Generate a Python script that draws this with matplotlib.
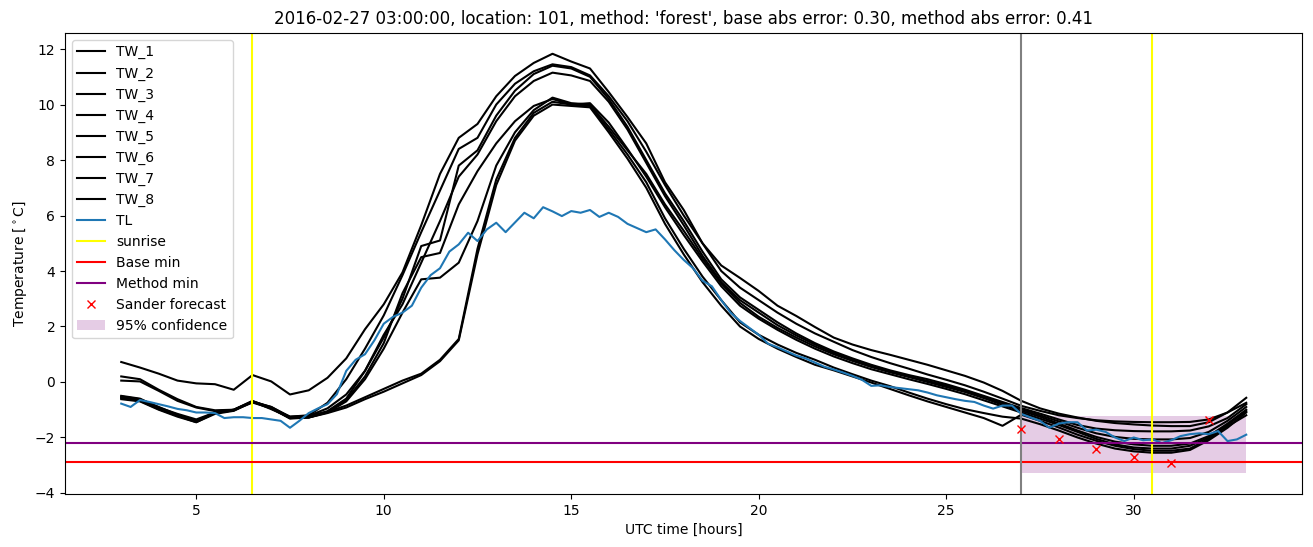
import numpy as np
import matplotlib
matplotlib.use("Agg")
import matplotlib.pyplot as plt

# hours (UTC, relative to start day)
hours_tw = np.arange(3.0, 33.01, 0.5)
hours_tl = np.arange(3.0, 33.01, 0.25)

TW_1 = [0.72, 0.52, 0.30, 0.05, -0.05, -0.08, -0.28, 0.25, 0.02, -0.45,
        -0.30, 0.15, 0.85, 1.90, 2.80, 3.95, 5.65, 7.50, 8.80, 9.30,
        10.30, 11.03, 11.50, 11.83, 11.55, 11.30, 10.45, 9.55, 8.60, 7.20,
        6.20, 5.00, 4.20, 3.75, 3.28, 2.75, 2.38, 1.98, 1.60, 1.35,
        1.15, 0.98, 0.80, 0.62, 0.42, 0.22, -0.02, -0.32, -0.68, -0.95,
        -1.14, -1.28, -1.40, -1.48, -1.53, -1.57, -1.59, -1.59, -1.45, -1.10,
        -0.57]
TW_2 = [0.20, 0.10, -0.28, -0.62, -0.90, -1.02, -1.00, -0.68, -0.95, -1.25,
        -1.20, -0.75, 0.10, 1.20, 2.40, 3.85, 5.40, 6.90, 8.40, 8.80,
        10.00, 10.75, 11.20, 11.45, 11.35, 11.05, 10.30, 9.40, 8.30, 7.10,
        6.00, 5.00, 4.00, 3.40, 2.95, 2.50, 2.10, 1.75, 1.45, 1.15,
        0.90, 0.68, 0.48, 0.27, 0.08, -0.12, -0.35, -0.60, -0.86, -1.04,
        -1.20, -1.30, -1.38, -1.42, -1.44, -1.45, -1.45, -1.44, -1.35, -1.10,
        -0.75]
TW_3 = [0.05, 0.02, -0.32, -0.68, -0.92, -1.05, -1.02, -0.70, -0.98, -1.28,
        -1.22, -0.95, -0.45, 0.40, 1.60, 3.00, 4.90, 5.10, 7.80, 8.35,
        9.60, 10.50, 11.10, 11.40, 11.30, 11.00, 10.20, 9.20, 8.00, 6.80,
        5.80, 4.70, 3.70, 3.05, 2.60, 2.15, 1.75, 1.40, 1.10, 0.85,
        0.62, 0.42, 0.25, 0.10, -0.08, -0.28, -0.50, -0.72, -0.94, -1.14,
        -1.35, -1.55, -1.68, -1.74, -1.77, -1.78, -1.78, -1.75, -1.60, -1.30,
        -0.80]
TW_4 = [-0.50, -0.60, -0.92, -1.15, -1.35, -1.10, -1.00, -0.72, -0.90, -1.28,
        -1.25, -1.05, -0.60, 0.40, 1.70, 2.80, 4.30, 5.80, 7.40, 8.20,
        9.40, 10.30, 10.85, 11.15, 11.05, 10.85, 10.10, 9.10, 7.90, 6.70,
        5.65, 4.55, 3.60, 2.95, 2.50, 2.05, 1.68, 1.35, 1.05, 0.80,
        0.58, 0.38, 0.20, 0.04, -0.13, -0.32, -0.55, -0.77, -0.98, -1.20,
        -1.42, -1.65, -1.85, -1.98, -2.05, -2.07, -2.07, -2.02, -1.80, -1.40,
        -0.90]
TW_5 = [-0.55, -0.65, -0.95, -1.20, -1.42, -1.12, -1.02, -0.70, -0.92, -1.30,
        -1.28, -1.10, -0.70, 0.10, 1.20, 2.50, 3.70, 3.76, 4.30, 5.80,
        7.80, 9.00, 9.80, 10.25, 10.05, 10.00, 9.20, 8.35, 7.50, 6.40,
        5.45, 4.45, 3.55, 2.85, 2.35, 1.95, 1.60, 1.28, 1.00, 0.76,
        0.54, 0.35, 0.18, 0.00, -0.18, -0.36, -0.58, -0.82, -1.04, -1.25,
        -1.50, -1.75, -1.98, -2.15, -2.25, -2.30, -2.30, -2.22, -1.95, -1.50,
        -1.00]
TW_6 = [-0.58, -0.68, -0.98, -1.22, -1.45, -1.15, -1.04, -0.72, -0.95, -1.32,
        -1.28, -1.08, -0.65, 0.20, 1.40, 3.20, 4.50, 4.65, 6.40, 7.60,
        8.60, 9.40, 9.95, 10.20, 10.00, 10.05, 9.35, 8.40, 7.40, 6.30,
        5.30, 4.35, 3.45, 2.75, 2.28, 1.88, 1.52, 1.20, 0.92, 0.68,
        0.46, 0.28, 0.10, -0.07, -0.25, -0.44, -0.66, -0.88, -1.10, -1.32,
        -1.55, -1.80, -2.05, -2.25, -2.36, -2.40, -2.40, -2.30, -2.00, -1.55,
        -1.05]
TW_7 = [-0.52, -0.62, -0.90, -1.18, -1.40, -1.10, -1.00, -0.70, -0.90, -1.25,
        -1.22, -1.08, -0.85, -0.55, -0.25, 0.05, 0.30, 0.80, 1.55, 4.80,
        7.30, 8.80, 9.70, 10.10, 10.00, 9.95, 9.10, 8.20, 7.20, 5.90,
        4.80, 3.80, 2.95, 2.15, 1.70, 1.35, 1.05, 0.80, 0.52, 0.28,
        0.05, -0.15, -0.38, -0.60, -0.80, -0.98, -1.12, -1.25, -1.32, -1.52,
        -1.75, -2.00, -2.22, -2.40, -2.50, -2.55, -2.55, -2.45, -2.10, -1.65,
        -1.10]
TW_8 = [-0.62, -0.70, -1.00, -1.25, -1.45, -1.12, -1.02, -0.74, -0.95, -1.30,
        -1.28, -1.12, -0.92, -0.62, -0.35, -0.05, 0.25, 0.75, 1.50, 4.60,
        7.10, 8.70, 9.60, 10.00, 9.95, 9.90, 9.00, 8.05, 7.00, 5.70,
        4.60, 3.60, 2.75, 2.00, 1.55, 1.20, 0.90, 0.62, 0.42, 0.20,
        -0.02, -0.25, -0.48, -0.70, -0.90, -1.10, -1.30, -1.58, -1.18, -1.40,
        -1.64, -1.90, -2.12, -2.30, -2.42, -2.48, -2.48, -2.40, -2.05, -1.60,
        -1.20]

TL = [-0.78, -0.90, -0.65, -0.72, -0.80, -0.88, -0.97, -1.02, -1.10, -1.10,
      -1.12, -1.30, -1.27, -1.27, -1.30, -1.30, -1.35, -1.40, -1.65, -1.40,
      -1.12, -0.95, -0.80, -0.44, 0.40, 0.80, 1.00, 1.50, 2.10, 2.35,
      2.50, 2.75, 3.40, 3.85, 4.10, 4.70, 4.96, 5.38, 5.08, 5.50,
      5.74, 5.40, 5.75, 6.10, 5.90, 6.30, 6.15, 5.98, 6.16, 6.10,
      6.20, 5.95, 6.10, 5.95, 5.70, 5.55, 5.40, 5.50, 5.14, 4.75,
      4.40, 4.10, 3.65, 3.45, 2.95, 2.50, 2.20, 1.95, 1.70, 1.38,
      1.25, 1.10, 0.95, 0.85, 0.70, 0.55, 0.45, 0.34, 0.22, 0.08,
      -0.14, -0.12, -0.18, -0.22, -0.26, -0.30, -0.38, -0.48, -0.55, -0.62,
      -0.68, -0.72, -0.85, -0.96, -0.85, -0.85, -1.15, -1.28, -1.40, -1.65,
      -1.50, -1.45, -1.45, -1.75, -1.72, -1.80, -2.00, -2.13, -2.00, -2.10,
      -2.07, -2.20, -2.10, -1.95, -1.88, -1.85, -1.88, -1.77, -2.13, -2.07,
      -1.90]

tw_series = {"TW_1": TW_1, "TW_2": TW_2, "TW_3": TW_3, "TW_4": TW_4,
             "TW_5": TW_5, "TW_6": TW_6, "TW_7": TW_7, "TW_8": TW_8}

sunrise_hours = [6.5, 30.5]
forecast_start = 27.0
base_min = -2.9
method_min = -2.2
sander_hours = [27, 28, 29, 30, 31, 32]
sander_values = [-1.70, -2.04, -2.40, -2.70, -2.92, -1.37]
conf_hours = [27.0, 33.0]
conf_low = -3.28
conf_high = -1.22

title = ("2016-02-27 03:00:00, location: 101, method: 'forest', "
         "base abs error: 0.30, method abs error: 0.41")

fig = plt.figure(figsize=(13.13, 5.47), dpi=100)
ax = fig.add_axes([0.0495, 0.097, 0.9425, 0.843])

for name, vals in tw_series.items():
    ax.plot(hours_tw, vals, color="black", lw=1.5, label=name)
ax.plot(hours_tl, TL, color="tab:blue", lw=1.5, label="TL")

for i, h in enumerate(sunrise_hours):
    ax.axvline(h, color="yellow", lw=1.5, label="sunrise" if i == 0 else None)
ax.axhline(base_min, color="red", lw=1.5, label="Base min")
ax.axhline(method_min, color="purple", lw=1.5, label="Method min")
ax.axvline(forecast_start, color="gray", lw=1.5)
ax.plot(sander_hours, sander_values, "x", color="red", label="Sander forecast")
ax.fill_between(conf_hours, [conf_low] * 2, [conf_high] * 2, color="purple",
                alpha=0.2, lw=0, label="95% confidence")

ax.set_title(title, fontsize=12)
ax.set_xlabel("UTC time [hours]")
ax.set_ylabel(r"Temperature [$^\circ$C]")
ax.set_yticks([-4, -2, 0, 2, 4, 6, 8, 10, 12])
ax.set_xticks([5, 10, 15, 20, 25, 30])
ax.legend(loc="upper left")

fig.savefig("out.png", dpi=100)
